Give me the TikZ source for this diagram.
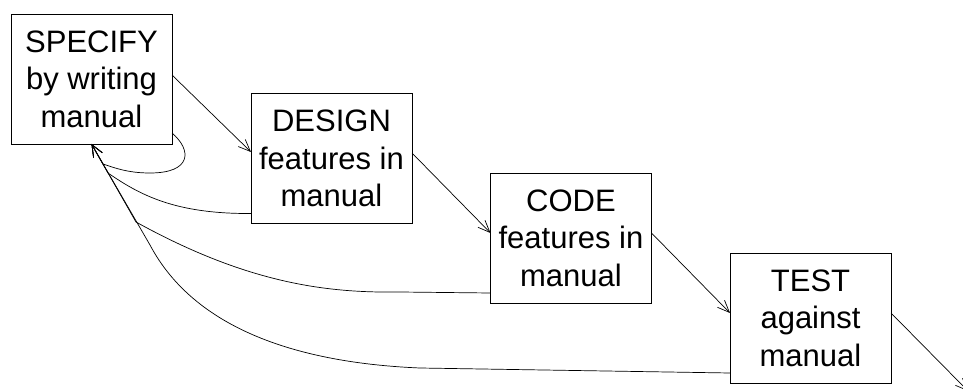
\documentclass[tikz,border=0pt]{standalone}
\usepackage{fontspec}
\setmainfont{Liberation Sans}
\usetikzlibrary{arrows.meta}
\begin{document}
\begin{tikzpicture}[x=1pt,y=-1pt,
  stage/.style={draw, line width=0.8pt, minimum width=161pt, minimum height=130pt,
    inner sep=0pt, outer sep=0pt, align=center,
    font=\fontsize{31}{37.5}\selectfont},
  flow/.style={line width=0.7pt, -{Straight Barb[length=12pt,width=10pt]}}]
\useasboundingbox (0,0) rectangle (963,390);
\node[stage] (S) at (91.5,79) {SPECIFY\\by writing\\manual};
\node[stage] (D) at (331.5,158.5) {DESIGN\\features in\\manual};
\node[stage] (C) at (571,238) {CODE\\features in\\manual};
\node[stage] (T) at (810.5,318) {TEST\\against\\manual};
\coordinate (out) at (968,391);
% forward flow
\draw[flow] ([yshift=4pt]S.east) -- ([yshift=6.5pt]D.west);
\draw[flow] ([yshift=5.5pt]D.east) -- ([yshift=5pt]C.west);
\draw[flow] ([yshift=5pt]C.east) -- ([yshift=5pt]T.west);
\draw[flow] ([yshift=5pt]T.east) -- (out);
% feedback
\draw[flow] ([yshift=11pt]S.south east) .. controls (192,150) and (192,173) .. (150,173)
  .. controls (128,173) and (115,168) .. (103,164) -- (S.south);
\draw[flow] ([yshift=10pt]D.south west) .. controls (175,214) and (140,195) .. (108,173) -- (S.south);
\draw[flow] ([yshift=10pt]C.south west) -- (400,292) .. controls (330,293) and (250,285) .. (136,222) -- (S.south);
\draw[flow] ([yshift=10pt]T.south west) -- (420,368) .. controls (300,363) and (195,330) .. (150,245) -- (S.south);
\end{tikzpicture}
\end{document}
